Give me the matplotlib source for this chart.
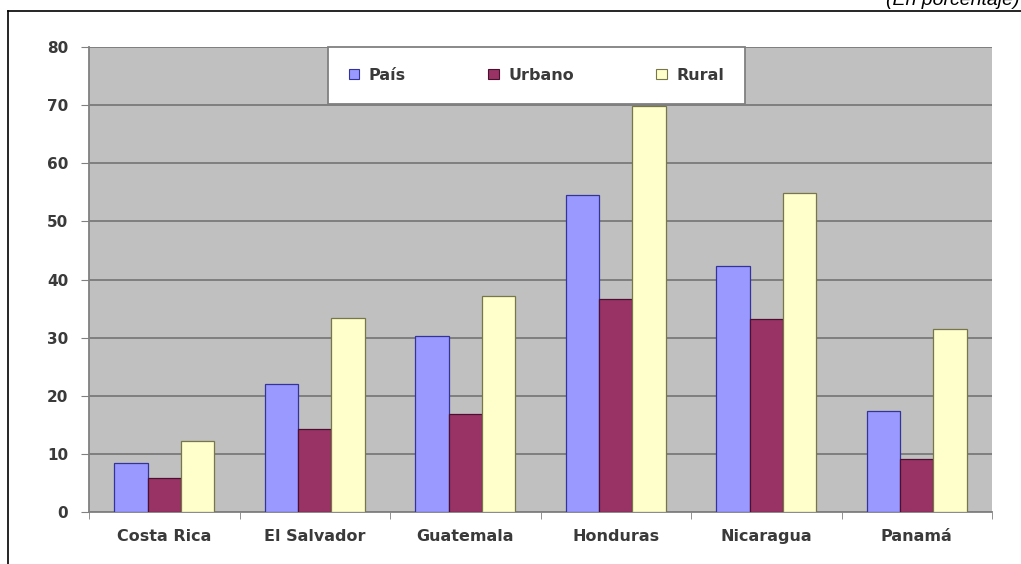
import matplotlib
matplotlib.use("Agg")
import matplotlib.pyplot as plt
import numpy as np
from matplotlib.patches import Patch
from matplotlib.lines import Line2D

plt.rcParams['font.family'] = ['DejaVu Sans']

countries = ["Costa Rica", "El Salvador", "Guatemala", "Honduras", "Nicaragua", "Panamá"]
pais = [8.4, 22.0, 30.3, 54.6, 42.4, 17.4]
urbano = [5.8, 14.3, 16.9, 36.7, 33.2, 9.1]
rural = [12.2, 33.4, 37.1, 69.8, 54.9, 31.5]
series_names = ["País", "Urbano", "Rural"]
y_ticks = [0, 10, 20, 30, 40, 50, 60, 70, 80]

W, H = 1021, 564
fig = plt.figure(figsize=(W / 100, H / 100), dpi=100)
fig.patch.set_facecolor("white")

# outer frame (top and left edges)
fig.add_artist(Line2D([8 / W, 1.0], [1 - 11 / H, 1 - 11 / H], color="black", lw=1.2))
fig.add_artist(Line2D([8 / W, 8 / W], [0, 1 - 11 / H], color="black", lw=1.2))
fig.text(886 / W, 1 - 5 / H, "(En porcentaje)", fontsize=14, style="italic",
         family="Liberation Sans", ha="left", va="baseline", color="black")

x0, x1, yt, yb = 89, 992, 47, 512
ax = fig.add_axes([x0 / W, 1 - yb / H, (x1 - x0) / W, (yb - yt) / H])
ax.set_facecolor("#c0c0c0")

x = np.arange(len(countries))
w = 0.222
fills = ["#9999ff", "#993366", "#ffffcc"]
edges = ["#333399", "#4a1030", "#77774a"]
for i, (vals, fc, ec) in enumerate(zip([pais, urbano, rural], fills, edges)):
    ax.bar(x + (i - 1) * w, vals, width=w, color=fc, edgecolor=ec, linewidth=0.9, zorder=3)

ax.set_xlim(-0.5, len(countries) - 0.5)
ax.set_ylim(0, 80)
ax.set_yticks(y_ticks)
ax.yaxis.grid(True, color="#7a7a7a", linewidth=1.3, zorder=1)
ax.set_axisbelow(True)

ax.set_xticks(x)
ax.set_xticklabels(countries, fontsize=11.5, fontweight="bold", color="#3a3a3a")
ax.tick_params(axis="x", which="major", length=0, pad=12)
ax.set_xticks(np.arange(-0.5, len(countries)), minor=True)
ax.tick_params(axis="x", which="minor", length=5, color="#808080", direction="out")
ax.tick_params(axis="y", length=6, color="#808080", labelsize=11, pad=9, labelcolor="#3a3a3a")
for lab in ax.get_yticklabels():
    lab.set_fontweight("bold")

for side in ["top", "right"]:
    ax.spines[side].set_visible(False)
for side in ["left", "bottom"]:
    ax.spines[side].set_color("#808080")
    ax.spines[side].set_linewidth(1.3)

handles = [Patch(facecolor=fc, edgecolor=ec, linewidth=0.8) for fc, ec in zip(fills, edges)]
leg = fig.legend(handles, series_names, ncol=3, loc="upper left",
                 bbox_to_anchor=(328 / W, 1 - 47 / H, 417 / W, 0.0),
                 bbox_transform=fig.transFigure,
                 mode="expand", frameon=True, fancybox=False,
                 facecolor="white", framealpha=1.0,
                 prop={"size": 11.5, "weight": "bold"},
                 handlelength=0.65, handleheight=0.65, handletextpad=0.6,
                 borderpad=1.3, borderaxespad=0)
for t in leg.get_texts():
    t.set_color("#3a3a3a")
leg.get_frame().set_edgecolor("#808080")
leg.get_frame().set_linewidth(1.3)
leg.set_zorder(5)

fig.savefig("out.png", dpi=100)
